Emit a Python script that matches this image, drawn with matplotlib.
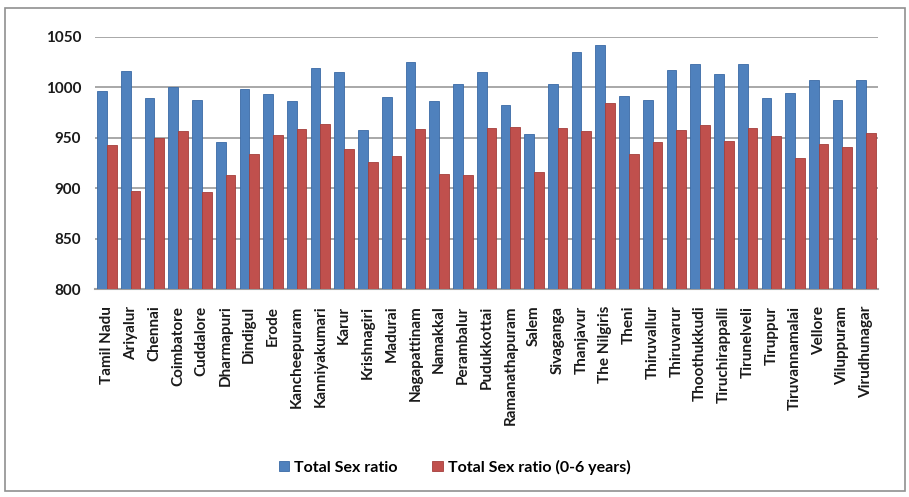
import numpy as np
import matplotlib.pyplot as plt
from matplotlib.patches import Rectangle

# === Data (Census 2011, Tamil Nadu) ===
districts = ["Tamil Nadu", "Ariyalur", "Chennai", "Coimbatore", "Cuddalore", "Dharmapuri",
             "Dindigul", "Erode", "Kancheepuram", "Kanniyakumari", "Karur", "Krishnagiri",
             "Madurai", "Nagapattinam", "Namakkal", "Perambalur", "Pudukkottai",
             "Ramanathapuram", "Salem", "Sivaganga", "Thanjavur", "The Nilgiris", "Theni",
             "Thiruvallur", "Thiruvarur", "Thoothukkudi", "Tiruchirappalli", "Tirunelveli",
             "Tiruppur", "Tiruvannamalai", "Vellore", "Viluppuram", "Virudhunagar"]
total_ratio = [996, 1016, 989, 1000, 987, 946, 998, 993, 986, 1019, 1015, 958, 990, 1025,
               986, 1003, 1015, 983, 954, 1003, 1035, 1042, 991, 987, 1017, 1023, 1013,
               1023, 989, 994, 1007, 987, 1007]
child_ratio = [943, 897, 950, 957, 896, 913, 934, 953, 959, 964, 939, 926, 932, 959,
               914, 913, 960, 961, 916, 960, 957, 985, 934, 946, 958, 963, 947,
               960, 952, 930, 944, 941, 955]

plt.rcParams['font.family'] = ['Lato', 'DejaVu Sans']
plt.rcParams['font.weight'] = 'bold'

fig = plt.figure(figsize=(9.09, 4.97), dpi=100)
ax = fig.add_axes([0.1045, 0.4185, 0.8615, 0.5071])

x = np.arange(len(districts))
w = 0.41
ax.bar(x - w/2, total_ratio, w, color='#4F81BD', edgecolor='#3A6AA6', linewidth=0.6,
       label='Total Sex ratio', zorder=3)
ax.bar(x + w/2, child_ratio, w, color='#C0504D', edgecolor='#A43E3B', linewidth=0.6,
       label='Total Sex ratio (0-6 years)', zorder=3)

ax.set_ylim(800, 1050)
ax.set_xlim(-0.5, len(districts) - 0.5)
ax.set_yticks([800, 850, 900, 950, 1000, 1050])
ax.yaxis.grid(True, color='#999999', linewidth=1.2, zorder=0)
ax.set_xticks(x)
ax.set_xticklabels(districts, rotation=90, fontsize=11, fontweight='bold', color='#1a1a1a')
ax.tick_params(axis='y', labelsize=11, colors='#1a1a1a', length=0, pad=10)
ax.tick_params(axis='x', length=0, pad=12)
for s in ['top', 'right', 'left']:
    ax.spines[s].set_visible(False)
ax.spines['bottom'].set_color('#A0A0A0')
ax.spines['bottom'].set_linewidth(1.5)

leg = fig.legend(loc='center', bbox_to_anchor=(0.5, 0.06), ncol=2, frameon=False,
                 fontsize=11.5, handlelength=0.65, handleheight=0.65, columnspacing=2.2,
                 handletextpad=0.3)

fig.patches.append(Rectangle((0.006, 0.012), 0.99, 0.972, transform=fig.transFigure,
                             fill=False, edgecolor='#909090', linewidth=1.2))

fig.savefig('out.png', dpi=100)
